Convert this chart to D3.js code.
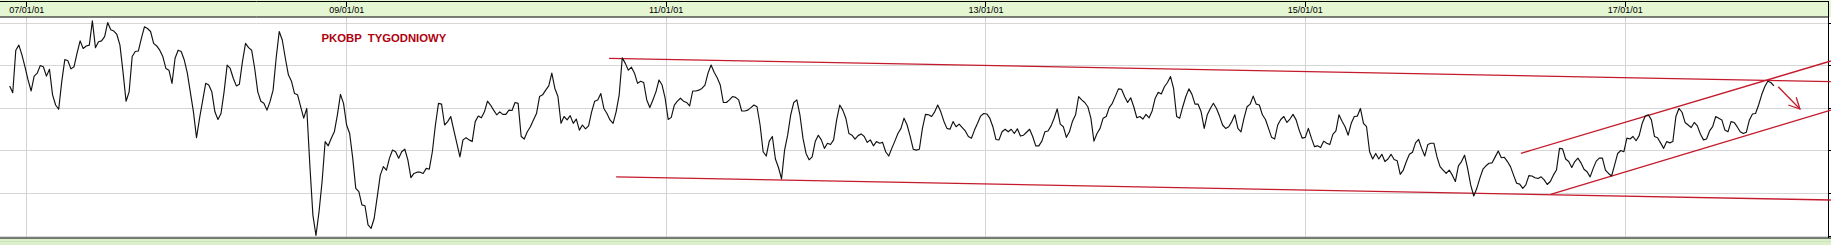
<!DOCTYPE html>
<html><head><meta charset="utf-8">
<script src="https://cdn.jsdelivr.net/npm/d3@7"></script>
<style>html,body{margin:0;padding:0;background:#fff;overflow:hidden}</style>
</head><body><svg id="c" width="1831" height="245"></svg>
<script>
// ---------- data ----------
const title = "PKOBP  TYGODNIOWY";
const tickDates = ["2007-01-01","2009-01-01","2011-01-01","2013-01-01","2015-01-01","2017-01-01"];
const tickLabels = ["07/01/01","09/01/01","11/01/01","13/01/01","15/01/01","17/01/01"];
const gridValues = [10, 20, 30, 40, 50, 60];
const firstWeek = "2006-11-24";
const weekRanges = [[0, 58], [60, 62], [64, 576]];
const closes = [
 45.2,43.6,53.6,54.8,52.5,49.7,46.6,44.0,47.5,48.2,
 50.0,49.7,47.5,49.1,43.1,40.7,39.7,46.2,51.4,51.1,
 49.2,49.7,52.9,55.8,54.0,54.6,54.8,60.5,54.2,55.6,
 55.8,56.8,60.1,58.4,58.1,57.3,54.8,48.5,41.6,43.8,
 52.1,53.3,53.4,56.4,59.1,58.7,58.0,55.2,54.6,53.6,
 52.1,49.3,48.9,45.8,51.7,53.6,53.3,51.3,48.2,
 39.1,33.0,37.6,
 45.8,45.4,43.8,39.1,37.3,38.7,
 43.8,50.1,49.3,47.0,45.2,45.6,50.9,55.2,54.2,53.6,
 49.3,43.8,41.6,41.1,39.5,41.5,44.2,51.7,58.0,56.0,
 51.7,47.8,46.3,43.4,43.1,40.3,37.6,39.9,26.6,14.8,
 10.0,15.6,22.7,32.1,31.1,32.9,34.4,38.4,43.2,41.1,
 36.0,34.0,28.2,21.1,20.3,17.2,17.0,12.5,11.7,14.0,
 19.1,24.2,26.2,25.4,28.2,30.1,29.7,28.2,29.7,30.3,
 27.8,23.6,24.6,24.9,24.9,24.6,25.8,25.6,29.7,36.0,
 41.1,40.9,36.0,36.8,38.0,34.8,31.7,28.5,32.5,33.0,
 32.5,32.1,36.8,38.1,37.7,39.1,41.6,40.7,39.5,38.4,
 39.1,38.5,38.5,39.5,39.4,41.3,41.1,33.3,32.7,34.4,
 35.6,37.2,38.7,42.7,43.1,44.2,45.2,48.2,44.6,42.7,
 36.4,38.0,37.2,38.2,36.4,37.4,34.8,36.0,35.1,35.8,
 39.1,41.6,41.9,43.4,39.9,38.7,37.2,36.4,39.1,43.1,
 51.8,50.5,48.9,49.6,48.2,45.8,46.3,46.0,41.9,40.1,
 41.9,43.8,46.6,45.4,42.3,37.3,37.8,40.7,41.6,42.3,
 41.6,41.3,40.5,44.0,44.0,44.2,44.6,45.4,48.2,50.1,
 48.4,47.1,45.4,41.3,41.3,41.9,42.7,42.5,41.9,39.3,
 39.3,39.5,40.1,40.7,40.3,36.0,29.7,28.7,32.2,33.3,
 28.0,26.0,23.3,30.1,33.6,38.4,41.3,41.9,38.4,32.9,
 29.3,27.8,28.5,32.1,33.6,32.5,30.5,31.7,31.4,32.5,
 37.2,40.7,39.5,37.6,34.0,33.6,32.7,33.5,33.9,33.3,
 31.9,32.5,31.1,32.1,31.7,31.9,29.7,28.7,30.5,32.2,
 34.0,35.2,37.6,36.0,33.3,30.3,30.1,30.3,35.2,38.5,
 38.4,38.0,39.1,40.7,39.1,36.9,35.2,35.0,36.8,35.6,
 36.2,35.4,34.6,33.3,32.9,34.8,36.4,38.1,38.7,38.6,
 37.6,35.6,32.6,32.5,34.4,35.0,34.4,35.0,34.0,35.1,
 33.4,33.6,34.3,35.0,33.3,31.1,31.1,32.2,34.4,34.6,
 35.8,37.6,39.8,36.2,35.6,33.1,34.4,36.9,38.4,42.7,
 41.9,41.3,40.3,37.6,32.2,34.0,35.2,37.6,38.0,40.1,
 41.1,42.8,44.5,44.4,42.7,41.3,42.4,40.3,37.7,38.0,
 37.4,38.5,37.7,39.3,42.3,43.7,43.3,45.0,46.0,47.4,
 44.6,38.0,37.6,40.3,42.7,44.5,43.2,40.9,40.9,39.1,
 35.2,38.4,39.9,41.1,39.9,38.1,36.0,35.2,35.6,36.8,
 38.4,35.2,34.4,37.6,40.3,40.9,42.8,40.9,40.7,38.4,
 37.3,35.2,33.1,32.7,36.0,37.3,38.0,36.6,37.4,38.5,
 37.2,34.8,32.9,33.1,35.2,32.9,30.9,31.1,30.7,32.2,
 31.7,31.4,33.8,34.6,38.4,36.9,35.6,33.6,36.4,38.0,
 38.1,39.9,36.4,35.6,29.7,28.0,29.3,28.0,29.1,27.4,
 28.0,29.1,27.9,27.6,24.4,25.4,27.4,29.1,29.6,31.8,
 32.6,30.5,28.7,31.4,31.7,31.7,28.5,26.2,25.4,24.6,
 25.4,24.2,22.7,26.4,27.4,28.9,25.8,21.9,19.3,21.1,
 23.5,25.6,26.4,27.0,27.1,28.5,29.9,28.3,28.4,27.4,
 26.2,24.2,22.3,22.1,21.1,21.9,24.1,24.0,23.6,23.4,
 23.8,23.1,22.0,22.7,24.2,25.4,30.5,30.4,28.0,27.4,
 26.0,27.4,28.2,27.1,25.6,25.0,23.8,25.8,27.5,28.2,
 28.2,25.4,24.6,24.0,26.6,29.3,30.0,29.7,32.9,32.7,
 33.3,32.3,33.5,36.4,38.1,38.4,37.2,33.3,33.0,31.8,
 30.5,32.1,31.8,32.1,38.0,39.9,39.0,36.6,36.0,35.4,
 36.6,35.8,33.9,32.5,32.7,34.6,35.6,38.0,37.6,37.2,
 34.8,34.4,36.8,36.6,35.6,34.4,34.0,34.3,37.2,38.6,
 38.7,40.7,43.1,45.0,46.3,46.0,45.2
];
// trend lines: [start week, end week] and [start value, end value]
const trendWeeks  = [[195.7, 594.6], [198.0, 594.6], [493.4, 594.6], [503.1, 594.6]];
const trendValues = [[51.7, 46.2],   [23.8, 18.35],  [29.34, 51.06], [19.69, 39.53]];
const arrowWeeks  = [577.4, 584.5];
const arrowValues = [45.0, 39.76];

// ---------- build ----------
const weeks = weekRanges.flatMap(([a, b]) => d3.range(a, b + 1));
if (weeks.length !== closes.length) console.error("length mismatch", weeks.length, closes.length);
const base = new Date(firstWeek).getTime();
const weekDate = w => new Date(base + w * 7 * 864e5);
const series = weeks.map((w, i) => ({date: weekDate(w), value: closes[i]}));

const W = 1831, H = 245;
const right = 1828.5, headerBottom = 17, plotBottom = 238;
const svg = d3.select("#c");

const x = d3.scaleUtc()
  .domain([new Date("2007-01-01"), new Date("2017-01-01")])
  .range([26.3, 1624.7]);
const y = d3.scaleLinear().domain([10, 60]).range([235.5, 23]);

// backgrounds
svg.append("rect").attr("x", 0).attr("y", 0).attr("width", W).attr("height", headerBottom).attr("fill", "#e4f6d2");
svg.append("rect").attr("x", 0).attr("y", plotBottom).attr("width", W).attr("height", H - plotBottom).attr("fill", "#dcf1cb");
svg.append("line").attr("x1", 0).attr("x2", W).attr("y1", 241.5).attr("y2", 241.5).attr("stroke", "#c9e6b4");

// horizontal grid
svg.append("g").selectAll("line").data(gridValues).join("line")
  .attr("x1", 0).attr("x2", right)
  .attr("y1", d => Math.round(y(d)) + 0.5).attr("y2", d => Math.round(y(d)) + 0.5)
  .attr("stroke", "#d6d6d6").attr("stroke-width", 1);

// vertical grid
const tickDateObjs = tickDates.map(d => new Date(d));
svg.append("g").selectAll("line").data(tickDateObjs).join("line")
  .attr("x1", d => Math.round(x(d)) + 0.5).attr("x2", d => Math.round(x(d)) + 0.5)
  .attr("y1", headerBottom).attr("y2", plotBottom)
  .attr("stroke", "#d2d2d8").attr("stroke-width", 1);

// header axis (top) with ticks through labels
const axisTop = d3.axisTop(x).tickValues(tickDateObjs)
  .tickFormat((d, i) => tickLabels[i]).tickSize(0).tickPadding(0);
const gAxis = svg.append("g").attr("transform", "translate(0,12.5)").call(axisTop);
gAxis.select(".domain").remove();
gAxis.selectAll("text").attr("font-family", "Arial, 'Liberation Sans', sans-serif")
  .attr("font-size", "9px").attr("fill", "#000").attr("dy", 0).attr("text-anchor", "middle");
svg.append("g").selectAll("line").data(tickDateObjs).join("line")
  .attr("x1", d => Math.round(x(d)) + 0.5).attr("x2", d => Math.round(x(d)) + 0.5)
  .attr("y1", 1).attr("y2", 7).attr("stroke", "#000");

// borders
svg.append("line").attr("x1", 0).attr("x2", right + 0.5).attr("y1", 1.5).attr("y2", 1.5).attr("stroke", "#000");
svg.append("line").attr("x1", 0).attr("x2", right + 0.5).attr("y1", headerBottom).attr("y2", headerBottom).attr("stroke", "#000");
svg.append("line").attr("x1", 0).attr("x2", W).attr("y1", plotBottom).attr("y2", plotBottom).attr("stroke", "#000").attr("stroke-width", 1.2);
svg.append("line").attr("x1", right).attr("x2", right).attr("y1", 1).attr("y2", plotBottom).attr("stroke", "#000");
// right-side ticks
svg.append("g").selectAll("line").data(gridValues).join("line")
  .attr("x1", right).attr("x2", W)
  .attr("y1", d => Math.round(y(d)) + 0.5).attr("y2", d => Math.round(y(d)) + 0.5)
  .attr("stroke", "#000");

// title
svg.append("text").attr("x", 321.5).attr("y", 42.3)
  .attr("font-family", "Arial, 'Liberation Sans', sans-serif").attr("font-weight", "bold")
  .attr("font-size", "11.3px").attr("fill", "#b0000e").style("white-space", "pre")
  .text(title);

// trend lines
const red = "#c41a2c";
svg.append("g").selectAll("line").data(trendWeeks).join("line")
  .attr("x1", (d) => x(weekDate(d[0]))).attr("x2", d => x(weekDate(d[1])))
  .attr("y1", (d, i) => y(trendValues[i][0])).attr("y2", (d, i) => y(trendValues[i][1]))
  .attr("stroke", red).attr("stroke-width", 1.3);

// arrow
const defs = svg.append("defs");
defs.append("marker").attr("id", "ah").attr("markerUnits", "userSpaceOnUse")
  .attr("viewBox", "-12 -7 14 14").attr("refX", 0).attr("refY", 0)
  .attr("markerWidth", 14).attr("markerHeight", 14).attr("orient", "auto")
  .append("path").attr("d", "M-11,-5.5L0,0L-11,5.5").attr("fill", "none")
  .attr("stroke", red).attr("stroke-width", 1.3);
svg.append("line")
  .attr("x1", x(weekDate(arrowWeeks[0]))).attr("y1", y(arrowValues[0]))
  .attr("x2", x(weekDate(arrowWeeks[1]))).attr("y2", y(arrowValues[1]))
  .attr("stroke", red).attr("stroke-width", 1.3).attr("marker-end", "url(#ah)");

// price line
const line = d3.line().x(d => x(d.date)).y(d => y(d.value));
svg.append("path").datum(series).attr("d", line)
  .attr("fill", "none").attr("stroke", "#111").attr("stroke-width", 1.15)
  .attr("stroke-linejoin", "round");
</script></body></html>
